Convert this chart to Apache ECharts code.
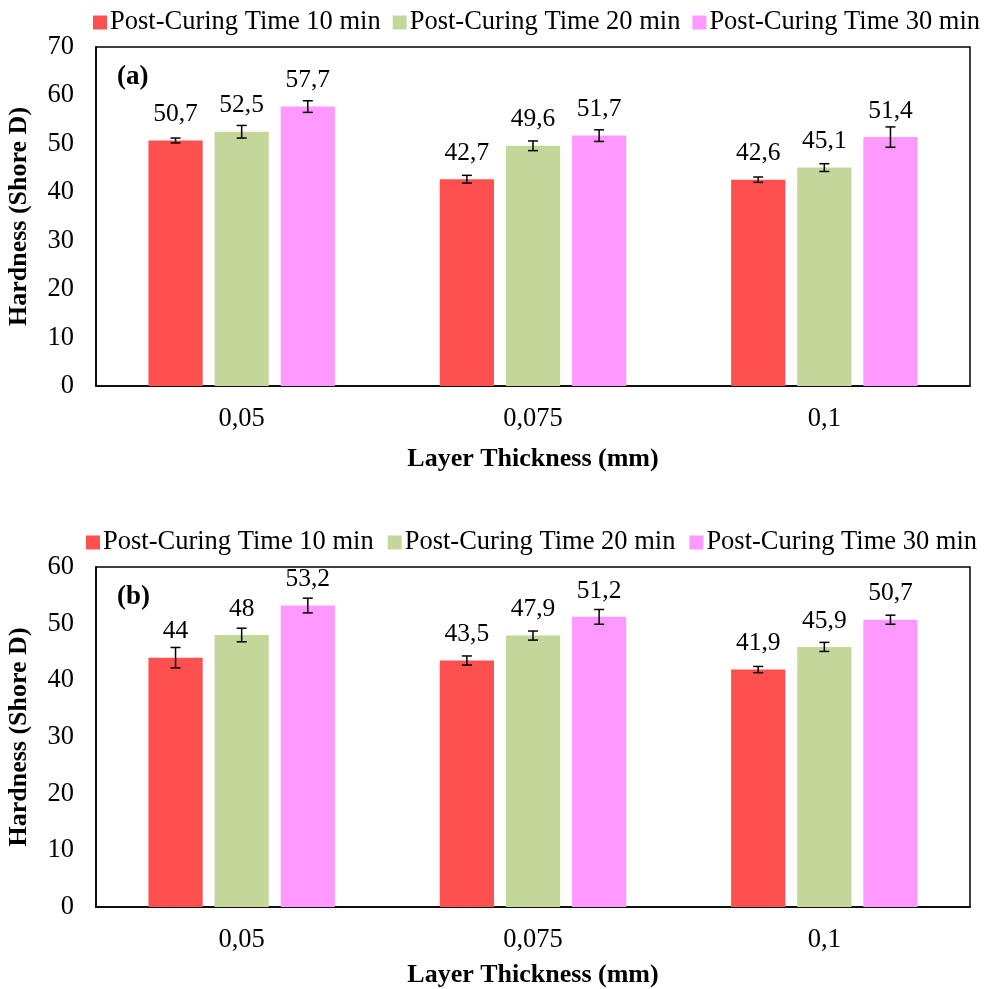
<!DOCTYPE html>
<html>
<head>
<meta charset="utf-8">
<script src="https://cdn.jsdelivr.net/npm/echarts@6/dist/echarts.min.js"></script>
<style>
  html, body { margin: 0; padding: 0; background: #fff; }
  #chart { width: 987px; height: 989px; }
</style>
</head>
<body>
<div id="chart"></div>
<script>
// Layer thickness categories (mm)
const layers = ['0,05', '0,075', '0,1'];
const seriesNames = ['Post-Curing Time 10 min', 'Post-Curing Time 20 min', 'Post-Curing Time 30 min'];

// Panel (a): mean hardness and error (Shore D)
const hardA10 = [50.7, 42.7, 42.6];
const hardA20 = [52.5, 49.6, 45.1];
const hardA30 = [57.7, 51.7, 51.4];
const errA10 = [0.5, 0.8, 0.55];
const errA20 = [1.3, 1.0, 0.8];
const errA30 = [1.2, 1.2, 2.1];

// Panel (b): mean hardness and error (Shore D)
const hardB10 = [44, 43.5, 41.9];
const hardB20 = [48, 47.9, 45.9];
const hardB30 = [53.2, 51.2, 50.7];
const errB10 = [1.8, 0.8, 0.55];
const errB20 = [1.2, 0.8, 0.8];
const errB30 = [1.3, 1.3, 0.8];

const colors = ['#FF5050', '#C4D79B', '#FF99FF'];
const FONT = '"Liberation Serif", "Times New Roman", serif';
const CAT_GAP = 0.36, BAR_GAP = 0.22;

const comma = v => String(v).replace('.', ',');

function barSeries(name, values, idx, gridIdx) {
  return {
    name: name, type: 'bar',
    xAxisIndex: gridIdx, yAxisIndex: gridIdx,
    data: values,
    barCategoryGap: (CAT_GAP * 100) + '%',
    barGap: (BAR_GAP * 100) + '%',
    itemStyle: { color: colors[idx] },
    label: {
      show: true, position: 'top', distance: 13,
      fontFamily: FONT, fontSize: 25.5, color: '#000',
      formatter: p => comma(p.value)
    },
    emphasis: { disabled: true },
    z: 2
  };
}

function errorSeries(name, values, errs, idx, gridIdx) {
  return {
    name: name, type: 'custom',
    xAxisIndex: gridIdx, yAxisIndex: gridIdx,
    data: values.map((v, i) => [i, v - errs[i], v + errs[i]]),
    renderItem: function (params, api) {
      const band = api.size([1, 0])[0];
      const group = band * (1 - CAT_GAP);
      const w = group / (3 + 2 * BAR_GAP);
      const off = -group / 2 + w / 2 + idx * w * (1 + BAR_GAP);
      const lo = api.coord([api.value(0), api.value(1)]);
      const hi = api.coord([api.value(0), api.value(2)]);
      const x = lo[0] + off;
      const cap = 5;
      const style = { stroke: '#000', lineWidth: 1.5 };
      return {
        type: 'group',
        children: [
          { type: 'line', shape: { x1: x, y1: hi[1], x2: x, y2: lo[1] }, style: style },
          { type: 'line', shape: { x1: x - cap, y1: hi[1], x2: x + cap, y2: hi[1] }, style: style },
          { type: 'line', shape: { x1: x - cap, y1: lo[1], x2: x + cap, y2: lo[1] }, style: style }
        ]
      };
    },
    z: 5,
    silent: true
  };
}

function xAxis(gridIdx, nameGap) {
  return {
    type: 'category', gridIndex: gridIdx, data: layers,
    axisLine: { lineStyle: { color: '#000', width: 1.5 } },
    axisTick: { show: false },
    axisLabel: { fontFamily: FONT, fontSize: 26.5, color: '#000', margin: 20 },
    name: 'Layer Thickness (mm)', nameLocation: 'middle', nameGap: nameGap,
    nameTextStyle: { fontFamily: FONT, fontSize: 26, fontWeight: 'bold', color: '#000' }
  };
}

function yAxis(gridIdx, max) {
  return {
    type: 'value', gridIndex: gridIdx, min: 0, max: max, interval: 10,
    axisLine: { show: true, lineStyle: { color: '#000', width: 1.5 } },
    axisTick: { show: false },
    splitLine: { show: false },
    axisLabel: { fontFamily: FONT, fontSize: 26.5, color: '#000', margin: 22 },
    name: 'Hardness (Shore D)', nameLocation: 'middle', nameGap: 64,
    nameTextStyle: { fontFamily: FONT, fontSize: 26, fontWeight: 'bold', color: '#000' }
  };
}

function legend(top, left, gap) {
  return {
    top: top, left: left, data: seriesNames,
    itemWidth: 14, itemHeight: 14, itemGap: gap,
    icon: 'rect',
    selectedMode: false,
    textStyle: { fontFamily: FONT, fontSize: 26.5, color: '#000', padding: [0, 0, 0, -2] }
  };
}

function grid(top, height) {
  return {
    left: 96, right: 17, top: top, height: height,
    show: true, borderColor: '#000', borderWidth: 1.5,
    outerBoundsMode: 'none', containLabel: false
  };
}

const chart = echarts.init(document.getElementById('chart'), null, { renderer: 'canvas' });
chart.setOption({
  animation: false,
  backgroundColor: '#fff',
  legend: [legend(4, 88, 12), legend(524, 81, 14)],
  grid: [grid(47, 339), grid(567, 340)],
  xAxis: [xAxis(0, 60), xAxis(1, 55)],
  yAxis: [yAxis(0, 70), yAxis(1, 60)],
  graphic: [
    { type: 'text', left: 117, top: 64, style: { text: '(a)', fontFamily: FONT, fontSize: 27, fontWeight: 'bold', fill: '#000' } },
    { type: 'text', left: 117, top: 584, style: { text: '(b)', fontFamily: FONT, fontSize: 27, fontWeight: 'bold', fill: '#000' } }
  ],
  series: [
    barSeries(seriesNames[0], hardA10, 0, 0),
    barSeries(seriesNames[1], hardA20, 1, 0),
    barSeries(seriesNames[2], hardA30, 2, 0),
    errorSeries(seriesNames[0], hardA10, errA10, 0, 0),
    errorSeries(seriesNames[1], hardA20, errA20, 1, 0),
    errorSeries(seriesNames[2], hardA30, errA30, 2, 0),
    barSeries(seriesNames[0], hardB10, 0, 1),
    barSeries(seriesNames[1], hardB20, 1, 1),
    barSeries(seriesNames[2], hardB30, 2, 1),
    errorSeries(seriesNames[0], hardB10, errB10, 0, 1),
    errorSeries(seriesNames[1], hardB20, errB20, 1, 1),
    errorSeries(seriesNames[2], hardB30, errB30, 2, 1)
  ]
});
</script>
</body>
</html>
